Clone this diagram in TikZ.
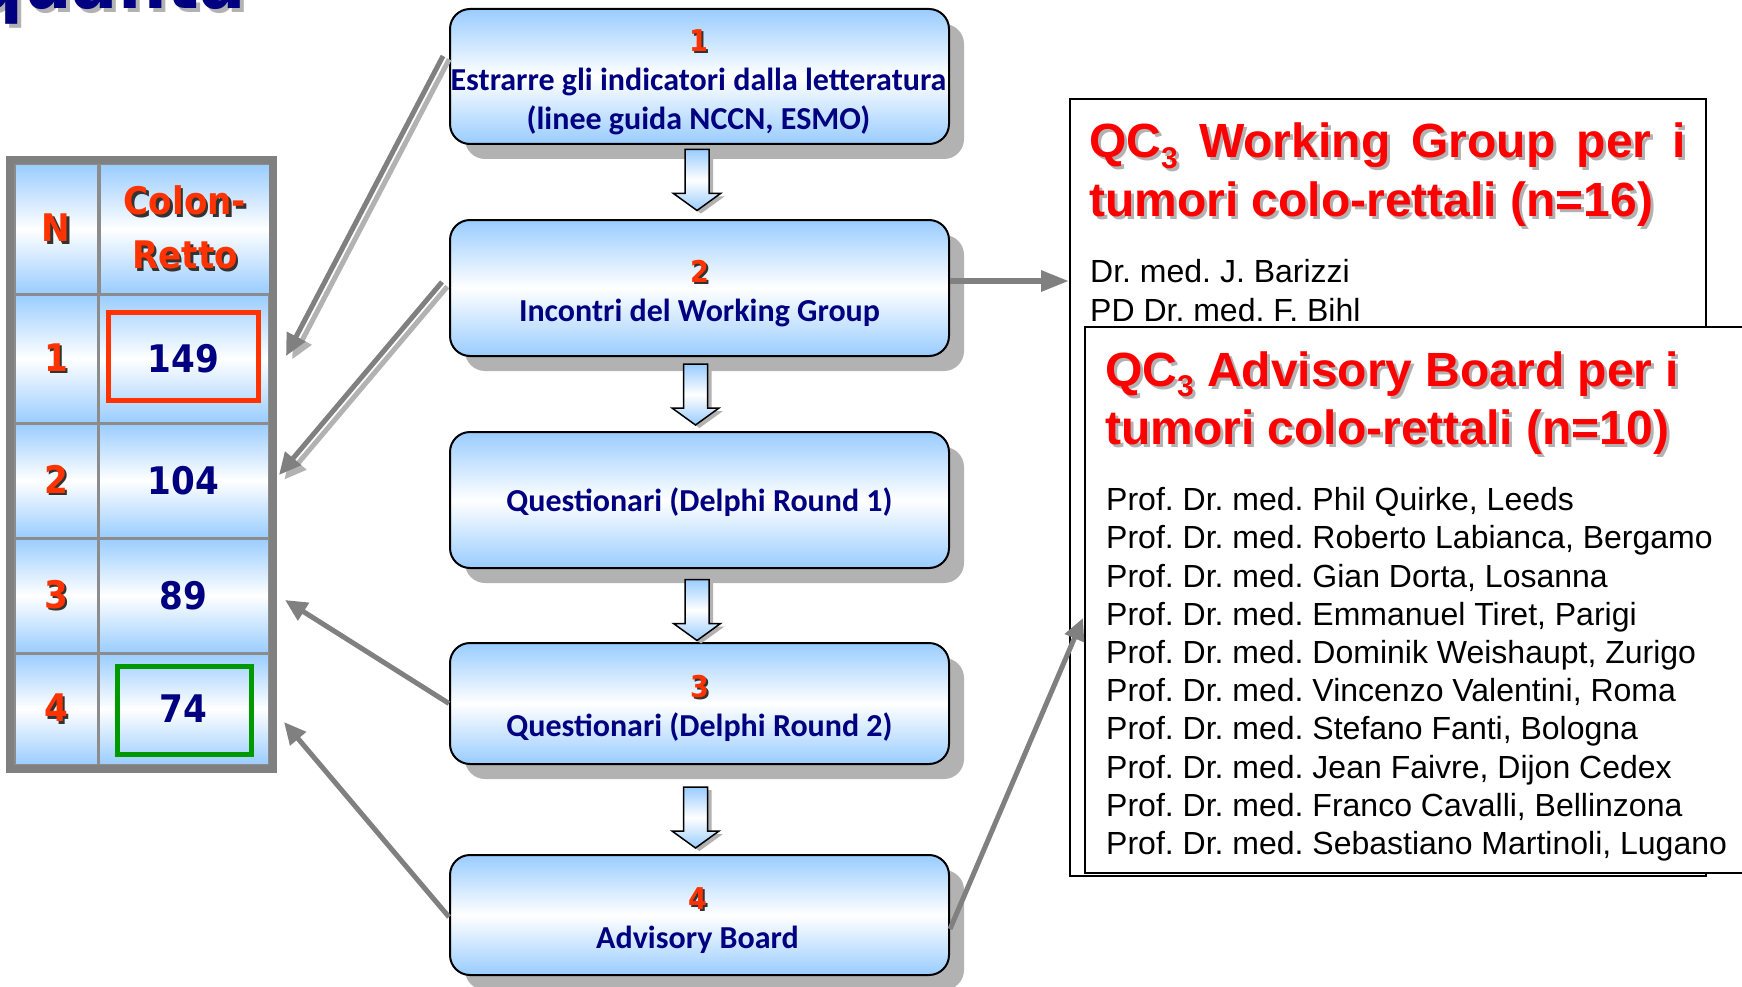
\documentclass[tikz,border=0pt]{standalone}
\usepackage{fontspec}
\usetikzlibrary{arrows.meta,shadows,calc}
\newfontfamily\arialf{Liberation Sans}
\newfontfamily\calf{Carlito}
\newfontfamily\tahf[FakeStretch=0.9]{DejaVu Sans}
\frenchspacing
\definecolor{navy}{RGB}{0,0,128}
\definecolor{numred}{RGB}{255,51,0}
\definecolor{boxblue}{RGB}{153,204,255}
\definecolor{arrgray}{RGB}{128,128,128}
\definecolor{arrlight}{RGB}{178,178,178}
\definecolor{tabgray}{RGB}{128,128,128}
\definecolor{cellline}{RGB}{140,140,140}
\definecolor{hlgreen}{RGB}{0,153,0}
\definecolor{shgray}{RGB}{178,178,178}
\definecolor{titlered}{RGB}{255,0,0}
% #1 offset, #2 shadow colour, #3 text colour, #4 text
\newcommand{\shd}[4]{\leavevmode\rlap{\kern#1\raisebox{-#1}{\textcolor{#2}{#4}}}\textcolor{#3}{#4}}
\newcommand{\subthree}{\raisebox{-0.22em}{\fontsize{30}{30}\selectfont 3}}
\newcommand{\numfnt}{\tahf\bfseries\fontsize{30}{39}\selectfont}
\newcommand{\bnum}[1]{{\numfnt\shd{2pt}{black!80}{numred}{#1}}}
\newcommand{\tnum}[1]{\shd{2.5pt}{black!80}{numred}{#1}}
\newcommand{\rtitle}[1]{\shd{3pt}{shgray}{titlered}{#1}}
\newcommand{\blockarrow}[1]{%
  \begin{scope}[shift={#1}]
    \fill[shgray,shift={(4,3)}] (-12,-61) -- (12,-61) -- (12,-17) -- (23.5,-17) -- (0,0) -- (-23.5,-17) -- (-12,-17) -- cycle;
    \draw[barrow] (-12,-61) -- (12,-61) -- (12,-17) -- (23.5,-17) -- (0,0) -- (-23.5,-17) -- (-12,-17) -- cycle;
  \end{scope}}
\begin{document}
\begin{tikzpicture}[x=1pt,y=-1pt,
  flowbox/.style={draw=black, line width=2pt, rounded corners=20pt, minimum width=499pt,
    inner sep=0pt, top color=boxblue, bottom color=boxblue, middle color=white,
    drop shadow={shadow xshift=15pt, shadow yshift=-15pt, fill=shgray, opacity=1}},
  flowtext/.style={inner sep=0pt, align=center, text=navy, font=\calf\bfseries\fontsize{32}{39}\selectfont},
  barrow/.style={draw=black, line width=1.5pt, top color=boxblue, bottom color=boxblue, middle color=white},
  cell/.style={draw=cellline, line width=3pt, outer sep=0pt, inner sep=0pt,
    top color=boxblue, bottom color=boxblue, middle color=white,
    align=center, text=navy, font=\tahf\bfseries\fontsize{38}{54}\selectfont},
  tabframe/.style={draw=tabgray, line width=8pt, inner sep=0pt},
  hlbox/.style={line width=5pt, inner sep=0pt, minimum height=88pt},
  rbox/.style={draw=black, line width=2pt, fill=white, inner sep=0pt, anchor=north west},
  rtitlef/.style={anchor=base west, inner sep=0pt, font=\arialf\bfseries\fontsize{48}{58}\selectfont},
  rnames/.style={anchor=base west, inner sep=0pt, align=left, text=black},
  garrow/.style={draw=arrgray, line width=5pt, -{Triangle[length=22pt,width=20pt]}},
  glight/.style={draw=arrlight, line width=5pt, -{Triangle[length=22pt,width=20pt]}},
  ttl/.style={anchor=base west, inner sep=0pt, font=\tahf\bfseries\fontsize{76}{76}\selectfont}
]
\useasboundingbox (0,0) rectangle (1742,987);
\clip (0,0) rectangle (1742,987);
\fill[white] (0,0) rectangle (1742,987);

% cropped title
\node[ttl] (title) at (-26,9) {\shd{4pt}{shgray}{navy}{quanta}};

% table
\node[cell,minimum width=84,minimum height=130] (h1) at (56,229) {\tnum{N}};
\node[cell,minimum width=171,minimum height=130] (h2) at (185,229) {\tnum{Colon-}\\\tnum{Retto}};
\node[cell,minimum width=84,minimum height=129] (n1) at (56,358.5) {\tnum{1}};
\node[cell,minimum width=171,minimum height=129] (t1) at (183.5,358.5) {149};
\node[cell,minimum width=84,minimum height=115] (n2) at (56,480.5) {\tnum{2}};
\node[cell,minimum width=171,minimum height=115] (t2) at (183.5,480.5) {104};
\node[cell,minimum width=84,minimum height=115] (n3) at (56,595.5) {\tnum{3}};
\node[cell,minimum width=171,minimum height=115] (t3) at (183.5,595.5) {89};
\node[cell,minimum width=84,minimum height=112] (n4) at (56,709) {\tnum{4}};
\node[cell,minimum width=171,minimum height=112] (t4) at (183.5,709) {74};
\node[tabframe,minimum width=263,minimum height=609] (tab) at (141.5,464.5) {};
\node[hlbox,draw=numred,minimum width=150] (hl1) at ($(t1.center)+(0,-2)$) {};
\node[hlbox,draw=hlgreen,minimum width=134] (hl4) at ($(t4.center)+(1,1.5)$) {};

% flow boxes
\node[flowbox,minimum height=135] (b1) at (699.5,76.5) {};
\node[flowbox,minimum height=136] (b2) at (699.5,288) {};
\node[flowbox,minimum height=136] (b3) at (699.5,500) {};
\node[flowbox,minimum height=121] (b4) at (699.5,703.5) {};
\node[flowbox,minimum height=120] (b5) at (699.5,915) {};
\node[flowtext] (b1t) at ($(b1.center)+(-1,6)$)
  {\bnum{1}\\\makebox[0pt]{Estrarre gli indicatori dalla letteratura}\\(linee guida NCCN, ESMO)};
\node[flowtext] (b2t) at ($(b2.center)+(0,6)$) {\bnum{2}\\Incontri del Working Group};
\node[flowtext] (b3t) at ($(b3.center)+(0,2)$) {Questionari (Delphi Round 1)};
\node[flowtext] (b4t) at ($(b4.center)+(0,5)$) {\bnum{3}\\Questionari (Delphi Round 2)};
\node[flowtext] (b5t) at ($(b5.center)+(-2,6)$) {\bnum{4}\\Advisory Board};

\blockarrow{($(b2.north)+(-2.5,-8.5)$)}
\blockarrow{($(b3.north)+(-4,-6)$)}
\blockarrow{($(b4.north)+(-2.5,-1.5)$)}
\blockarrow{($(b5.north)+(-4,-6)$)}

% right boxes
\node[rbox,minimum width=636,minimum height=777] (wg) at (1069,98) {};
\node[rtitlef] (wgt1) at (1089,158) {\rtitle{\makebox[597pt][s]{QC\subthree\ Working Group per i}}};
\node[rtitlef] (wgt2) at (1089,216) {\rtitle{tumori colo-rettali (n=16)}};
\node[rnames,font=\arialf\fontsize{32}{39}\selectfont] (wgn) at (1090,321.5)
  {Dr. med. J. Barizzi\\PD Dr. med. F. Bihl};
\node[rbox,minimum width=700,minimum height=546] (ab) at (1084,326) {};
\node[rtitlef] (abt1) at (1105,386) {\rtitle{QC\subthree\ Advisory Board per i}};
\node[rtitlef] (abt2) at (1105,444) {\rtitle{tumori colo-rettali (n=10)}};
\node[rnames,font=\arialf\fontsize{32}{38.2}\selectfont] (abn) at (1106,854.5)
  {Prof. Dr. med. Phil Quirke, Leeds\\
   Prof. Dr. med. Roberto Labianca, Bergamo\\
   Prof. Dr. med. Gian Dorta, Losanna\\
   Prof. Dr. med. Emmanuel Tiret, Parigi\\
   Prof. Dr. med. Dominik Weishaupt, Zurigo\\
   Prof. Dr. med. Vincenzo Valentini, Roma\\
   Prof. Dr. med. Stefano Fanti, Bologna\\
   Prof. Dr. med. Jean Faivre, Dijon Cedex\\
   Prof. Dr. med. Franco Cavalli, Bellinzona\\
   Prof. Dr. med. Sebastiano Martinoli, Lugano};

% connectors
\coordinate (s1) at ([xshift=-6pt,yshift=20.5pt]b1.west);
\coordinate (e1) at ([xshift=17pt,yshift=2.5pt]t1.east);
\coordinate (s2) at ([xshift=-7pt,yshift=6pt]b2.west);
\coordinate (e2) at ([xshift=10pt,yshift=5.5pt]t2.east);
\coordinate (s3) at (b4.west);
\coordinate (e3) at ([xshift=16pt,yshift=-4.5pt]t3.east);
\coordinate (s4) at ([yshift=-2pt]b5.west);
\coordinate (e4) at ([xshift=15pt,yshift=-13pt]t4.east);
\coordinate (s5) at ([yshift=-14pt]b5.east);
\coordinate (e5) at ([xshift=-1pt,yshift=-18pt]ab.west);
\coordinate (s6) at ([yshift=7pt]b2.east);

\draw[glight] ([xshift=6.2pt,yshift=-3.3pt]s1) -- ([xshift=6.2pt,yshift=-3.3pt]e1);
\draw[garrow] (s1) -- (e1);
\draw[glight] ([xshift=5.3pt,yshift=-4.6pt]s2) -- ([xshift=5.3pt,yshift=-4.6pt]e2);
\draw[garrow] (s2) -- (e2);
\draw[garrow] (s3) -- (e3);
\draw[garrow] (s4) -- (e4);
\draw[garrow] (s5) -- (e5);
\draw[draw=arrgray, line width=6pt, -{Triangle[length=28pt,width=20pt]}] (s6) -- (s6 -| wg.west);
\end{tikzpicture}
\end{document}
